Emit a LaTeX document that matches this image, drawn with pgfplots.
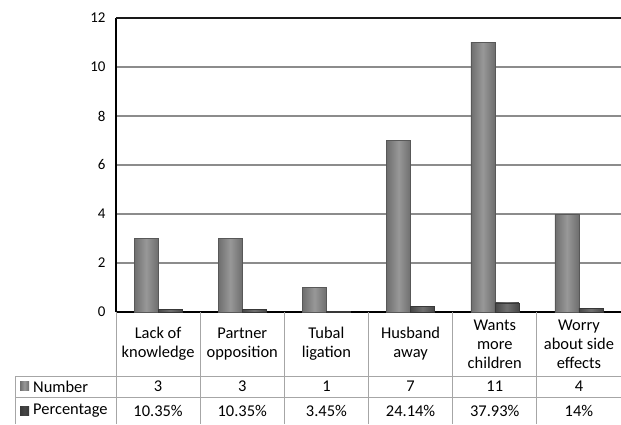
\documentclass[border=0pt]{standalone}
\usepackage{pgfplots}
\pgfplotsset{compat=1.18}
\usepackage{fontspec}
\setmainfont{Carlito}

\definecolor{numedge}{HTML}{6E6E6E}
\definecolor{nummid}{HTML}{989898}
\definecolor{pctedge}{HTML}{464646}
\definecolor{pctmid}{HTML}{707070}
\definecolor{gridgray}{HTML}{8C8C8C}
\definecolor{tablegray}{HTML}{A6A6A6}

\pgfplotsset{
  numbar/.style={draw=numedge!80!black, line width=0.4bp,
    left color=numedge, right color=numedge, middle color=nummid,
    bar shift=-0.1425},
  pctbar/.style={draw=pctedge!80!black, line width=0.4bp,
    left color=pctedge, right color=pctedge, middle color=pctmid,
    bar shift=0.1425},
}

\begin{document}
\begin{tikzpicture}[x=1bp,y=1bp,font=\fontsize{16.5}{19}\selectfont]
\begin{axis}[
  at={(116bp,112bp)}, anchor=south west,
  scale only axis, width=505bp, height=294bp,
  xmin=-0.5, xmax=5.5, ymin=0, ymax=12,
  ytick={0,2,...,12}, xtick=\empty,
  axis lines*=left,
  axis line style={black, line width=1.2bp, -},
  ymajorgrids, grid style={gridgray, line width=1.4bp},
  major tick length=0pt,
  yticklabel style={xshift=-7bp, font=\fontsize{15}{16}\selectfont},
  /pgf/number format/assume math mode=true,
  ybar, bar width=0.285,
  clip=false,
]
% Number (one plot per bar so each bar gets its own shading)
\addplot[numbar] coordinates {(0,3)};
\addplot[numbar] coordinates {(1,3)};
\addplot[numbar] coordinates {(2,1)};
\addplot[numbar] coordinates {(3,7)};
\addplot[numbar] coordinates {(4,11)};
\addplot[numbar] coordinates {(5,4)};
% Percentage, as a fraction
\addplot[pctbar] coordinates {(0,0.1035)};
\addplot[pctbar] coordinates {(1,0.1035)};
\addplot[pctbar] coordinates {(2,0.0345)};
\addplot[pctbar] coordinates {(3,0.2414)};
\addplot[pctbar] coordinates {(4,0.3793)};
\addplot[pctbar] coordinates {(5,0.14)};
\draw[black!90, line width=1.3bp] (rel axis cs:0,1) -- (rel axis cs:1,1);
\end{axis}

% data table under the plot
\def\colw{84.17}
\foreach \k in {0,...,5} {
  \draw[tablegray, line width=1bp] ({116+\k*\colw},112) -- ({116+\k*\colw},0);
}
\draw[tablegray, line width=1bp] (15,48) -- (621,48);
\draw[tablegray, line width=1bp] (15,27) -- (621,27);
\draw[tablegray, line width=1bp] (15,48) -- (15,0);

\foreach \lab [count=\i from 0] in {
  {Lack of\\knowledge},
  {Partner\\opposition},
  {Tubal\\ligation},
  {Husband\\away},
  {Wants\\more\\children},
  {Worry\\about side\\effects}} {
  \node[align=center, inner sep=0pt] at ({116+(\i+0.5)*\colw},80) {\lab};
}
\foreach \v [count=\i from 0] in {3,3,1,7,11,4} {
  \node[inner sep=0pt] at ({116+(\i+0.5)*\colw},37.5) {\v};
}
\foreach \v [count=\i from 0] in {10.35\%,10.35\%,3.45\%,24.14\%,37.93\%,14\%} {
  \node[inner sep=0pt] at ({116+(\i+0.5)*\colw},13.5) {\v};
}

% row headers with legend keys
\fill[left color=numedge, right color=numedge, middle color=nummid] (20,33.5) rectangle (29,42.5);
\node[anchor=west, inner sep=0pt] at (33,37.5) {Number};
\fill[left color=pctedge!80!black, right color=pctedge!80!black, middle color=pctedge] (20,9) rectangle (29,18);
\node[anchor=west, inner sep=0pt] at (33,13.5) {Percentage};

\pgfresetboundingbox
\path (0,0) rectangle (621,424);
\end{tikzpicture}
\end{document}
